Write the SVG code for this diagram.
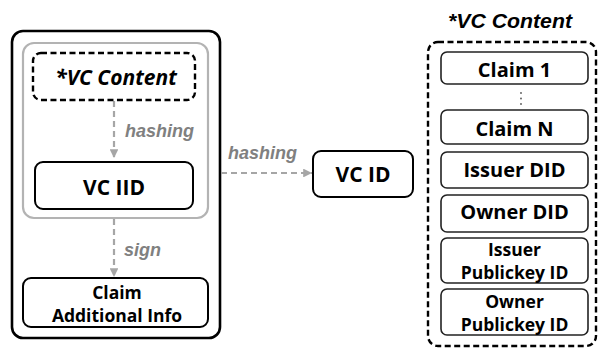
<svg xmlns="http://www.w3.org/2000/svg" width="601" height="349" viewBox="0 0 601 349">
<defs>
<style>
.box{fill:#fff;stroke:#000;stroke-width:2}
.sbox{fill:#fff;stroke:#222;stroke-width:1.6}
.dash{fill:none;stroke:#000;stroke-width:2.4;stroke-dasharray:6 3.5}
.gray{fill:none;stroke:#b3b3b3;stroke-width:2.2}
.conn{fill:none;stroke:#a6a6a6;stroke-width:2.2;stroke-dasharray:6 4}
.t{font-family:"Open Sans","Noto Sans",sans-serif;font-weight:bold;fill:#000;text-anchor:middle}
.lbl{font-family:"Liberation Sans",Arial,sans-serif;font-weight:bold;font-style:italic;fill:#808080;font-size:18px}
.title{font-family:"Liberation Sans",Arial,sans-serif;font-weight:bold;font-style:italic;fill:#000;font-size:20px;text-anchor:middle}
</style>
<marker id="arr" viewBox="0 0 10 10" refX="10" refY="5" markerWidth="4" markerHeight="4" orient="auto" markerUnits="strokeWidth">
<path d="M0,0 L10,5 L0,10 z" fill="#a6a6a6"/>
</marker>
</defs>
<rect width="601" height="349" fill="#fff"/>

<g id="outer-box">
<rect x="12" y="31" width="208" height="307" rx="11" fill="#fff" stroke="#000" stroke-width="2.6"/>
</g>
<g id="gray-box">
<rect class="gray" x="23" y="43" width="185" height="175" rx="11"/>
</g>

<g id="connectors">
<line class="conn" x1="114" y1="101" x2="114" y2="158" marker-end="url(#arr)"/>
<line class="conn" x1="114" y1="219" x2="114" y2="277" marker-end="url(#arr)"/>
<line class="conn" x1="221" y1="173" x2="312" y2="173" marker-end="url(#arr)"/>
<text class="lbl" x="125" y="137">hashing</text>
<text class="lbl" x="124" y="256">sign</text>
<text class="lbl" x="228" y="159">hashing</text>
</g>

<g id="vc-content-left">
<rect class="dash" x="33" y="53" width="162" height="47" rx="8" fill="#fff"/>
<text class="t" x="116" y="85" font-size="21" font-style="italic">*VC Content</text>
</g>

<g id="vc-iid">
<rect class="box" x="35" y="162" width="158" height="47" rx="8"/>
<text class="t" x="114" y="195" font-size="21">VC IID</text>
</g>

<g id="claim-additional">
<rect class="box" x="23" y="278" width="185" height="49" rx="8"/>
<text class="t" x="117" y="299" font-size="17.5">Claim</text>
<text class="t" x="117" y="322" font-size="17.5">Additional Info</text>
</g>

<g id="vc-id">
<rect class="box" x="313" y="151" width="100" height="46" rx="8"/>
<text class="t" x="363" y="182" font-size="21">VC ID</text>
</g>

<g id="vc-content-right">
<text class="title" x="510" y="28" textLength="124" lengthAdjust="spacingAndGlyphs">*VC Content</text>
<rect class="dash" x="428" y="42" width="168" height="304" rx="10"/>
</g>

<g id="claim-1">
<rect class="sbox" x="441" y="52" width="147" height="32" rx="6"/>
<text class="t" x="514.5" y="77" font-size="20">Claim 1</text>
</g>
<g id="ellipsis">
<circle cx="521" cy="93" r="0.9" fill="#555"/>
<circle cx="521" cy="98.5" r="0.9" fill="#555"/>
<circle cx="521" cy="104" r="0.9" fill="#555"/>
</g>
<g id="claim-n">
<rect class="sbox" x="441" y="110" width="147" height="34" rx="6"/>
<text class="t" x="514.5" y="136" font-size="20">Claim N</text>
</g>
<g id="issuer-did">
<rect class="sbox" x="441" y="152" width="147" height="36" rx="6"/>
<text class="t" x="514.5" y="177" font-size="20">Issuer DID</text>
</g>
<g id="owner-did">
<rect class="sbox" x="441" y="195" width="147" height="37" rx="6"/>
<text class="t" x="514.5" y="219" font-size="20">Owner DID</text>
</g>
<g id="issuer-pk">
<rect class="sbox" x="441" y="238" width="147" height="45" rx="6"/>
<text class="t" x="514.5" y="255.5" font-size="17.5">Issuer</text>
<text class="t" x="514.5" y="278.5" font-size="17.5">Publickey ID</text>
</g>
<g id="owner-pk">
<rect class="sbox" x="441" y="289" width="147" height="46" rx="6"/>
<text class="t" x="514.5" y="308" font-size="17.5">Owner</text>
<text class="t" x="514.5" y="331" font-size="17.5">Publickey ID</text>
</g>
</svg>
